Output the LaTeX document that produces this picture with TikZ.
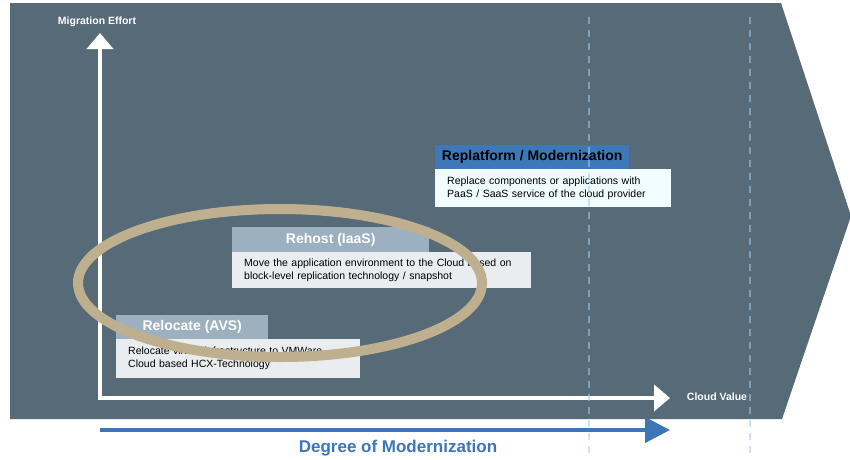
\documentclass[tikz,border=0pt]{standalone}
\usepackage{fontspec}
\setmainfont{Liberation Sans}
\usetikzlibrary{arrows.meta,shapes.geometric}
\definecolor{bg}{HTML}{566A78}
\definecolor{dashblue}{HTML}{A1CDF0}
\definecolor{modblue}{HTML}{3D76B6}
\definecolor{hdrblue}{HTML}{3E78B9}
\definecolor{hdrgray}{HTML}{9DB0C0}
\definecolor{descgray}{HTML}{E9EDF0}
\definecolor{descwhite}{HTML}{F0FCFF}
\definecolor{tanring}{HTML}{BEB08F}
\begin{document}
\begin{tikzpicture}[x=1pt,y=-1pt,
  hdr/.style={rectangle, anchor=north west, inner sep=0pt, text=white,
    font=\fontsize{14}{16}\selectfont\bfseries},
  desc/.style={rectangle, anchor=north west, inner xsep=12pt, inner ysep=0pt,
    align=left, text=black, font=\fontsize{10.5}{13}\selectfont},
  axislabel/.style={text=white, font=\fontsize{10.5}{12}\selectfont\bfseries, inner sep=0pt},
  axisline/.style={white, line width=4pt, line join=miter},
  guide/.style={dashblue, opacity=0.55, line width=1.8pt, dash pattern=on 7pt off 6pt}
]
\useasboundingbox (0,0) rectangle (850,459);
% background chevron
\fill[bg] (10,3) -- (781,3) -- (851,216) -- (782,419) -- (10,419) -- cycle;

% Replatform box
\node[desc, fill=descwhite, minimum width=236pt, minimum height=38pt, text width=212pt] (rpd) at (435,169)
  {Replace components or applications with\\PaaS / SaaS service of the cloud provider};
\node[hdr, fill=hdrblue, text=black, minimum width=194pt, minimum height=24pt] (rph) at (435,145)
  {Replatform / Modernization};

% Rehost box
\node[desc, fill=descgray, minimum width=299pt, minimum height=36pt, text width=275pt] (rhd) at (232,252)
  {Move the application environment to the Cloud based on\\block-level replication technology / snapshot};
\node[hdr, fill=hdrgray, minimum width=197pt, minimum height=25pt] (rhh) at (232,227)
  {Rehost (IaaS)};

% Relocate box
\node[desc, fill=descgray, minimum width=244pt, minimum height=39pt, text width=220pt] (rld) at (116,339)
  {Relocate virtual infrastructure to VMWare\\Cloud based HCX-Technology};
\node[hdr, fill=hdrgray, minimum width=152pt, minimum height=24pt] (rlh) at (116,315)
  {Relocate (AVS)};

% axes
\coordinate (o) at (100,398);
\coordinate (ytip) at (100,33);
\coordinate (xtip) at (670,398);
\draw[axisline, {Triangle[width=26pt,length=16pt]}-{Triangle[width=26pt,length=16pt]}] (ytip) -- (o) -- (xtip);
\node[axislabel] (ylab) at (97,22) {Migration Effort};
\node[axislabel] (xlab) at (717,397) {Cloud Value};

% ring
\draw[tanring, line width=10pt] (280,283) ellipse [x radius=202, y radius=74];

% dashed guides
\coordinate (g1t) at (589,17); \coordinate (g1b) at (589,459);
\coordinate (g2t) at (750,17); \coordinate (g2b) at (750,459);
\draw[guide] (g1t) -- (g1b);
\draw[guide] (g2t) -- (g2b);

% modernization arrow
\coordinate (m0) at (100,430);
\coordinate (m1) at (670,430);
\draw[modblue, line width=4pt, -{Triangle[width=25pt,length=25pt]}] (m0) -- (m1);
\node[text=modblue, font=\fontsize{17}{19}\selectfont\bfseries, inner sep=0pt] (mlab) at (398,448) {Degree of Modernization};
\end{tikzpicture}
\end{document}
